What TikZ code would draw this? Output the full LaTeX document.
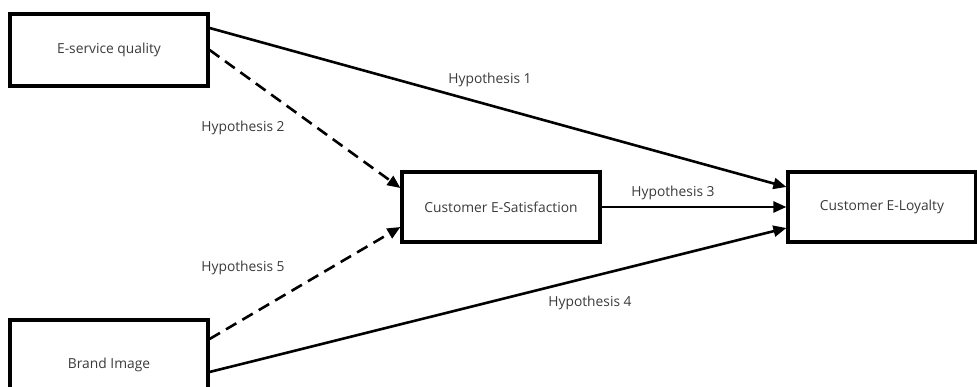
\documentclass[tikz,border=0pt]{standalone}
\usepackage{fontspec}
\setmainfont{Open Sans}
\usetikzlibrary{arrows.meta}
\definecolor{labelgray}{HTML}{3A3A3A}

\begin{document}
\begin{tikzpicture}[x=1pt,y=1pt,
    construct/.style ={rectangle, draw, line width=3.2pt, text=labelgray,
      font=\fontsize{13.8}{16}\selectfont, inner sep=0pt},
    hyp/.style ={text=labelgray, font=\fontsize{13.8}{16}\selectfont},
    path/.style ={line width=2.6pt, -{Triangle[length=13pt,width=11pt]}},
    dpath/.style ={path, dash pattern=on 12pt off 7pt}]
   \useasboundingbox (0,0) rectangle (977,387);

   \node[construct, minimum width=198, minimum height=72] (Q) at (109,337) {E-service quality};
   \node[construct, minimum width=198, minimum height=90] (B) at (109,22)  {Brand Image};
   \node[construct, minimum width=198, minimum height=70] (S) at (501,180) {Customer E-Satisfaction};
   \node[construct, minimum width=188, minimum height=70] (L) at (882,180) {Customer E-Loyalty};

   \node[hyp] (H1) at (490,307) {Hypothesis 1};
   \node[hyp] (H2) at (243,259) {Hypothesis 2};
   \node[hyp] (H3) at (673,194) {Hypothesis 3};
   \node[hyp] (H4) at (590,84)  {Hypothesis 4};
   \node[hyp] (H5) at (243,119) {Hypothesis 5};

   \draw[path]  ([yshift=22]Q.east) to ([yshift=20]L.west);
   \draw[dpath] (Q.east) to ([yshift=19]S.west);
   \draw[path]  (S.east) to (L.west);
   \draw[dpath] ([yshift=26]B.east) to ([yshift=-20]S.west);
   \draw[path]  ([yshift=-7]B.east) to ([yshift=-21]L.west);
 \end{tikzpicture}
\end{document}
